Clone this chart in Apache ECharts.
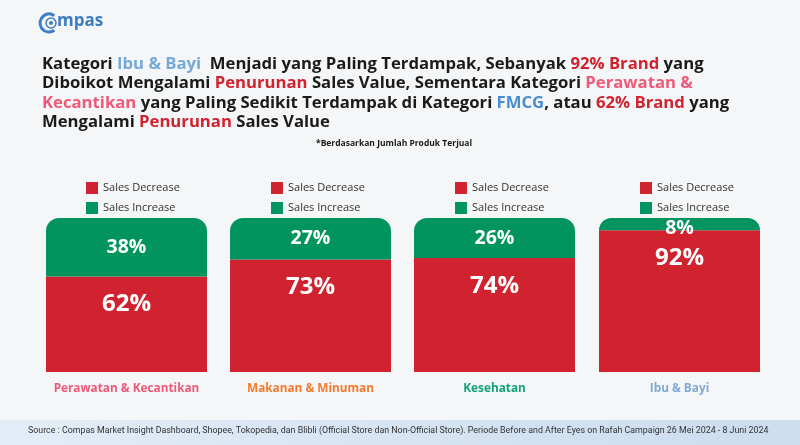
<!DOCTYPE html>
<html>
<head>
<meta charset="utf-8">
<script src="https://cdn.jsdelivr.net/npm/echarts@6/dist/echarts.min.js"></script>
<style>
html,body{margin:0;padding:0;background:#F5F6F7;}
#chart{width:800px;height:445px;}
</style>
</head>
<body>
<div id="chart"></div>
<script>
// ---- data ----
const categories = ['Perawatan & Kecantikan', 'Makanan & Minuman', 'Kesehatan', 'Ibu & Bayi'];
const decreaseValues = [62, 73, 74, 92];
const increaseValues = [38, 27, 26, 8];
const seriesNames = ['Sales Decrease', 'Sales Increase'];
const footnote = '*Berdasarkan Jumlah Produk Terjual';
const sourceText = 'Source : Compas Market Insight Dashboard, Shopee, Tokopedia, dan Blibli (Official Store dan Non-Official Store). Periode Before and After Eyes on Rafah Campaign 26 Mei 2024 - 8 Juni 2024';

// ---- styles ----
const RED = '#D0232F';
const GREEN = '#02945E';
const catColors = ['#EE5A78', '#F47B2E', '#14A37A', '#7EAAD6'];
const gridLefts = [46, 230, 414, 599];
const legendLefts = [81, 266, 450, 635];
const FONT = 'Open Sans';

const chart = echarts.init(document.getElementById('chart'));

const grids = [], xAxes = [], yAxes = [], series = [], legends = [];
categories.forEach((cat, i) => {
  grids.push({left: gridLefts[i], top: 218, width: 161, height: 154});
  xAxes.push({
    type: 'category', gridIndex: i, data: [cat],
    axisLine: {show: false}, axisTick: {show: false},
    axisLabel: {margin: 11, color: catColors[i], fontFamily: FONT, fontWeight: 'bold', fontSize: 11.8}
  });
  yAxes.push({type: 'value', gridIndex: i, min: 0, max: 100, show: false, splitLine: {show: false}});
  series.push({
    name: seriesNames[0], type: 'bar', stack: 's' + i, xAxisIndex: i, yAxisIndex: i,
    barWidth: '100%', data: [decreaseValues[i]],
    itemStyle: {color: RED},
    label: {show: true, position: 'insideTop', distance: 16, formatter: '{c}%',
      color: '#fff', fontFamily: FONT, fontWeight: 'bold', fontSize: 24},
    silent: true
  });
  series.push({
    name: seriesNames[1], type: 'bar', stack: 's' + i, xAxisIndex: i, yAxisIndex: i,
    barWidth: '100%', data: [increaseValues[i]],
    itemStyle: {color: GREEN, borderRadius: [13, 13, 0, 0]},
    label: {show: true, position: 'inside', offset: [0, 1], formatter: '{c}%',
      color: '#fff', fontFamily: FONT, fontWeight: 'bold', fontSize: 19.5},
    labelLayout: function (p) {
      return (p.rect && p.rect.height < 20) ? {dy: 4} : {};
    },
    silent: true
  });
  legends.push({
    data: seriesNames, orient: 'vertical', left: legendLefts[i], top: 177,
    itemWidth: 12, itemHeight: 12, itemGap: 8, icon: 'rect',
    selectedMode: false,
    textStyle: {color: '#333', fontFamily: FONT, fontSize: 11}
  });
});

const base = {fontFamily: FONT, fontWeight: 'bold', fontSize: 16.7, lineHeight: 19.5};
const titleRich = {
  k: Object.assign({color: '#1A1A1A'}, base),
  b: Object.assign({color: '#74A9D8'}, base),
  r: Object.assign({color: '#D0232F'}, base),
  p: Object.assign({color: '#EE5A78'}, base),
  f: Object.assign({color: '#4A8CD2'}, base)
};
const titleText =
  '{k|Kategori }{b|Ibu & Bayi}{k|  Menjadi yang Paling Terdampak, Sebanyak }{r|92% Brand}{k| yang}\n' +
  '{k|Diboikot Mengalami }{r|Penurunan}{k| Sales Value, Sementara Kategori }{p|Perawatan &}\n' +
  '{p|Kecantikan}{k| yang Paling Sedikit Terdampak di Kategori }{f|FMCG}{k|, atau }{r|62% Brand}{k| yang}\n' +
  '{k|Mengalami }{r|Penurunan}{k| Sales Value}';

const option = {
  backgroundColor: '#F5F6F7',
  animation: false,
  title: [{
    text: titleText, left: 37, top: 49,
    textStyle: {rich: titleRich, fontSize: 16.7, fontFamily: FONT, fontWeight: 'bold', lineHeight: 19.5}
  }, {
    text: footnote, left: 311, top: 134,
    textStyle: {fontSize: 8.5, fontFamily: FONT, fontWeight: 'bold', color: '#1A1A1A'}
  }],
  legend: legends,
  grid: grids,
  xAxis: xAxes,
  yAxis: yAxes,
  series: series,
  graphic: [
    {type: 'rect', left: 0, top: 420, shape: {width: 800, height: 25}, silent: true,
      style: {fill: new echarts.graphic.LinearGradient(0, 0, 1, 0, [
        {offset: 0, color: '#E4EDF7'}, {offset: 0.5, color: '#D6E4F3'}, {offset: 1, color: '#CCDDF0'}])}},
    {type: 'text', left: 28, top: 426, silent: true,
      style: {text: sourceText, fill: '#333', fontFamily: 'Roboto', fontSize: 8.85}},
    // logo
    {type: 'arc', shape: {cx: 49, cy: 23, r: 9, startAngle: Math.PI * 0.3, endAngle: Math.PI * 1.7}, silent: true,
      style: {stroke: '#3C7EC3', lineWidth: 3, fill: null}},
    {type: 'circle', shape: {cx: 51, cy: 23, r: 5}, silent: true,
      style: {stroke: '#3C7EC3', lineWidth: 1.5, fill: null}},
    {type: 'circle', shape: {cx: 51, cy: 23, r: 2}, silent: true,
      style: {fill: '#3C7EC3'}},
    {type: 'text', left: 57, top: 13, silent: true,
      style: {text: 'mpas', fill: '#3C7EC3', fontFamily: FONT, fontWeight: 'bold', fontSize: 17}}
  ]
};
chart.setOption(option);
</script>
</body>
</html>
